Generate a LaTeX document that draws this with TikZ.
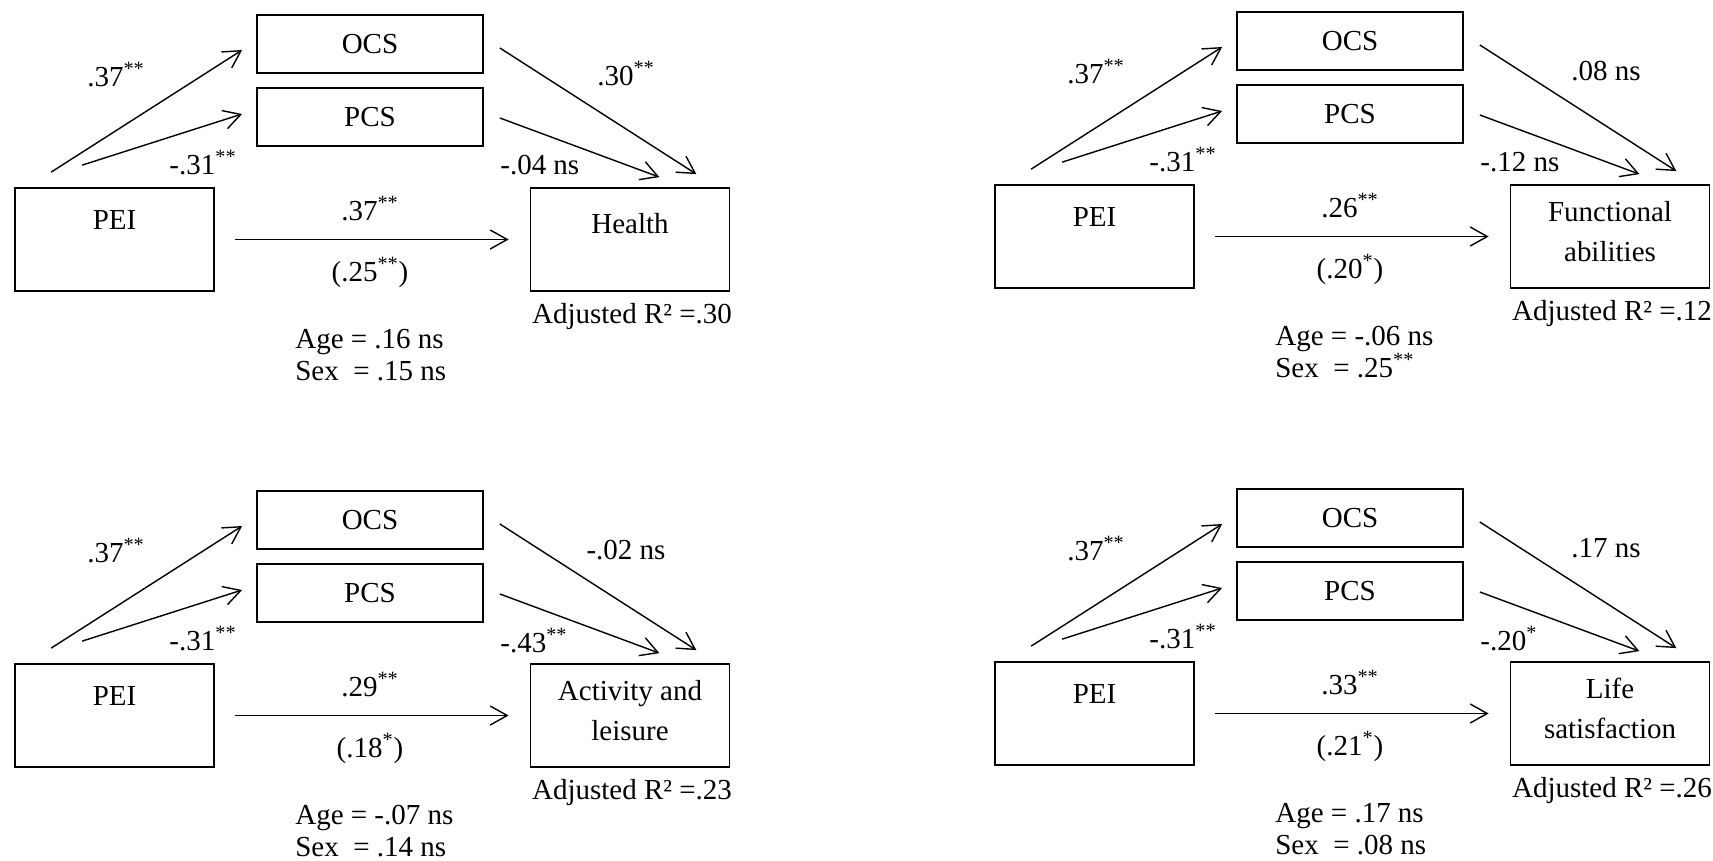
\documentclass[tikz,border=0pt]{standalone}
\usepackage{fontspec}
\setmainfont{Liberation Serif}
\usetikzlibrary{arrows.meta}

\tikzset{
  varbox/.style={draw, line width=1pt, inner sep=0pt, minimum width=3.98cm, minimum height=2.06cm,
    align=center, font=\fontsize{16.5}{23}\selectfont},
  medbox/.style={draw, line width=1pt, inner sep=0pt, minimum width=4.52cm, minimum height=1.16cm},
  effect/.style={line width=0.8pt, -{Straight Barb[length=0.34cm,width=0.38cm]}},
  coef/.style={inner sep=0pt}
}
\newcommand{\sig}[1]{\textsuperscript{#1}}

% #1 outcome, #2 its text depth, #3 OCS->outcome, #4 PCS->outcome,
% #5 direct, #6 total, #7 adjusted R2, #8 age, #9 sex
\newcommand{\mediation}[9]{
  \node[medbox] (ocs) at (370,44) {OCS};
  \node[medbox] (pcs) at (370,117) {PCS};
  \node[varbox, text depth=0.78cm] (pei) at (114.5,239.5) {PEI};
  \node[varbox, text depth=#2] (out) at (630,239.5) {#1};
  \draw[effect] ([shift={(37,-15)}]pei.north west) -- ([shift={(-14,6)}]ocs.west);
  \draw[effect] ([shift={(68,-22)}]pei.north west) -- ([shift={(-14,-3)}]pcs.west);
  \draw[effect] ([shift={(16,4)}]ocs.east) -- ([shift={(-34,-13)}]out.north east);
  \draw[effect] ([shift={(16,1)}]pcs.east) -- ([shift={(-71,-10)}]out.north east);
  \draw[effect] ([shift={(20,0)}]pei.east) -- ([shift={(-21,0)}]out.west);
  \node[coef] (a-ocs) at (116,75) {.37\sig{**}};
  \node[coef] (a-pcs) at (203,163) {-.31\sig{**}};
  \node[coef] (b-ocs) at (626,74) {#3};
  \node[coef, anchor=west] (b-pcs) at (500,165) {#4};
  \node[coef] (direct) at (370,209) {#5};
  \node[coef] (total) at (370,272) {#6};
  \node[coef] (rsq) at (632,317) {Adjusted R² =#7};
  \node[coef, anchor=west, align=left, font=\fontsize{16.5}{18.5}\selectfont] (covar) at (295,355) {Age = #8\\Sex\ \ = #9};
}

\begin{document}
\begin{tikzpicture}[x=0.02cm, y=-0.02cm, font=\fontsize{16.5}{19}\selectfont]
\useasboundingbox (0,0) rectangle (1713,861);

\begin{scope}[name prefix=tl-]
\mediation{Health}{0.66cm}{.30\sig{**}}{-.04 ns}{.37\sig{**}}{(.25\sig{**})}{.30}{.16 ns}{.15 ns}
\end{scope}

\begin{scope}[shift={(980,-3)}, name prefix=tr-]
\mediation{Functional\\abilities}{0.2cm}{.08 ns}{-.12 ns}{.26\sig{**}}{(.20\sig{*})}{.12}{-.06 ns}{.25\sig{**}}
\end{scope}

\begin{scope}[shift={(0,476)}, name prefix=bl-]
\mediation{Activity and\\leisure}{0.2cm}{-.02 ns}{-.43\sig{**}}{.29\sig{**}}{(.18\sig{*})}{.23}{-.07 ns}{.14 ns}
\end{scope}

\begin{scope}[shift={(980,474)}, name prefix=br-]
\mediation{Life\\satisfaction}{0.2cm}{.17 ns}{-.20\sig{*}}{.33\sig{**}}{(.21\sig{*})}{.26}{.17 ns}{.08 ns}
\end{scope}
\end{tikzpicture}
\end{document}
